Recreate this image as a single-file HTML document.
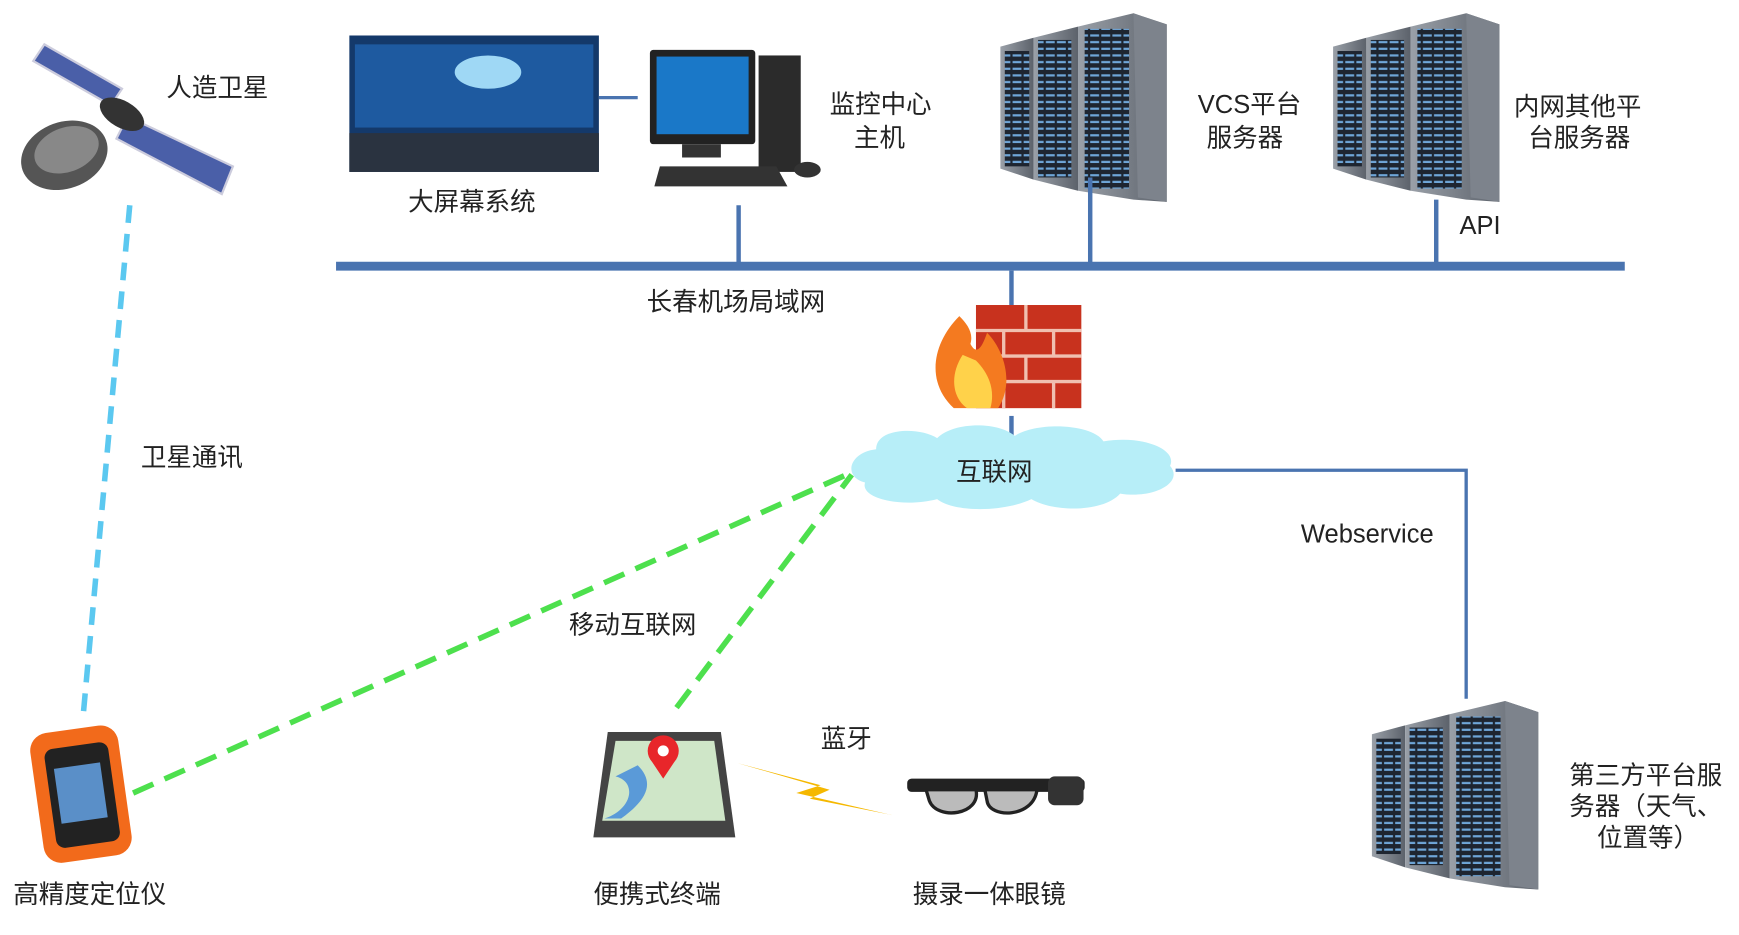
<!DOCTYPE html>
<html><head><meta charset="utf-8"><style>
html,body{margin:0;padding:0;background:#fff;}
svg{display:block}
text{font-family:"Liberation Sans","Noto Sans CJK SC",sans-serif;fill:#222;font-size:23px}
</style></head><body>
<svg width="1739" height="935" viewBox="0 0 1568 843" preserveAspectRatio="none" xmlns="http://www.w3.org/2000/svg">
<defs>
<linearGradient id="side" x1="0" x2="1"><stop offset="0" stop-color="#9aa0a8"/><stop offset="1" stop-color="#5c626b"/></linearGradient>
<pattern id="slots" width="10" height="6" patternUnits="userSpaceOnUse"><rect width="10" height="6" fill="#1e2530"/><rect x="1" y="1" width="8" height="2" fill="#6fa6d8"/></pattern>
<g id="server">
 <polygon points="0,30 30,22 30,150 0,140" fill="url(#side)"/>
 <rect x="4" y="34" width="22" height="104" fill="url(#slots)"/>
 <polygon points="30,22 70,12 70,160 30,150" fill="url(#side)"/>
 <rect x="34" y="24" width="30" height="124" fill="url(#slots)"/>
 <polygon points="70,12 120,0 150,10 150,170 120,168 70,160" fill="url(#side)"/>
 <rect x="76" y="14" width="40" height="144" fill="url(#slots)"/>
 <polygon points="120,0 150,10 150,170 124,166" fill="#7d838c"/>
</g>
</defs>

<g>
 <polygon points="40,40 110,80 100,95 30,55" fill="#4a5fa8" stroke="#ccd" stroke-width="2"/>
 <polygon points="115,105 210,150 200,175 105,125" fill="#4a5fa8" stroke="#ccd" stroke-width="2"/>
 <ellipse cx="110" cy="103" rx="22" ry="12" fill="#333" transform="rotate(30 110 103)"/>
 <ellipse cx="58" cy="140" rx="40" ry="30" fill="#555" transform="rotate(-20 58 140)"/>
 <ellipse cx="60" cy="135" rx="30" ry="20" fill="#888" transform="rotate(-20 60 135)"/>
</g>
<text x="150" y="87">人造卫星</text>
<line x1="117" y1="185" x2="75" y2="645" stroke="#5bc8f0" stroke-width="5" stroke-dasharray="16,10"/>
<text x="127" y="420">卫星通讯</text>

<rect x="315" y="32" width="225" height="123" fill="#14396a"/>
<rect x="320" y="40" width="215" height="75" fill="#1e5aa0"/>
<ellipse cx="440" cy="65" rx="30" ry="15" fill="#9fd8f5"/>
<rect x="315" y="120" width="225" height="35" fill="#2a3340"/>
<line x1="540" y1="88" x2="575" y2="88" stroke="#4a74b0" stroke-width="3"/>
<text x="368" y="190">大屏幕系统</text>

<rect x="586" y="45" width="95" height="85" fill="#222" rx="3"/>
<rect x="592" y="51" width="83" height="70" fill="#1a78c8"/>
<rect x="684" y="50" width="38" height="105" fill="#2b2b2b"/>
<rect x="615" y="130" width="35" height="12" fill="#333"/>
<polygon points="595,150 700,150 710,168 590,168" fill="#333"/>
<ellipse cx="728" cy="153" rx="12" ry="7" fill="#333"/>
<text x="748" y="102">监控中心</text>
<text x="770" y="132">主机</text>
<line x1="666" y1="185" x2="666" y2="240" stroke="#4a74b0" stroke-width="4"/>

<use href="#server" x="902" y="12"/>
<text x="1080" y="102">VCS平台</text>
<text x="1088" y="132">服务器</text>
<line x1="983" y1="160" x2="983" y2="240" stroke="#4a74b0" stroke-width="4"/>
<use href="#server" x="1202" y="12"/>
<text x="1365" y="104">内网其他平</text>
<text x="1378" y="132">台服务器</text>
<line x1="1295" y1="180" x2="1295" y2="240" stroke="#4a74b0" stroke-width="4"/>
<text x="1316" y="211" font-size="20">API</text>

<rect x="303" y="236" width="1162" height="8" fill="#4a74b0"/>
<text x="583" y="280">长春机场局域网</text>
<line x1="912" y1="244" x2="912" y2="275" stroke="#4a74b0" stroke-width="4"/>

<rect x="880" y="275" width="95" height="93" fill="#c8321e"/>
<g stroke="#f0c0b0" stroke-width="3">
<line x1="880" y1="298" x2="975" y2="298"/><line x1="880" y1="321" x2="975" y2="321"/><line x1="880" y1="344" x2="975" y2="344"/>
<line x1="925" y1="275" x2="925" y2="298"/><line x1="905" y1="298" x2="905" y2="321"/><line x1="950" y1="298" x2="950" y2="321"/>
<line x1="925" y1="321" x2="925" y2="344"/><line x1="905" y1="344" x2="905" y2="368"/><line x1="950" y1="344" x2="950" y2="368"/>
</g>
<path d="M865,285 C840,310 835,345 860,368 L900,368 C915,345 905,315 890,300 C885,315 880,320 875,310 C878,300 872,292 865,285Z" fill="#f47a20"/>
<path d="M868,320 C855,340 860,360 872,368 L893,368 C898,350 890,335 880,325Z" fill="#ffd24a"/>
<line x1="912" y1="375" x2="912" y2="395" stroke="#4a74b0" stroke-width="4"/>

<path d="M790,405 C790,385 830,385 845,395 C860,380 900,380 915,393 C935,380 985,382 995,398 C1030,392 1062,405 1055,420 C1068,435 1040,450 1010,445 C995,462 950,462 930,450 C905,462 860,462 845,450 C815,458 775,450 780,435 C760,430 765,408 790,405Z" fill="#b7eef8"/>
<text x="862" y="433" font-size="27">互联网</text>

<polyline points="1060,424 1322,424 1322,630" fill="none" stroke="#4a74b0" stroke-width="3"/>
<text x="1173" y="489" font-size="20">Webservice</text>
<use href="#server" x="1237" y="632"/>
<text x="1415" y="707">第三方平台服</text>
<text x="1415" y="735">务器（天气、</text>
<text x="1440" y="763">位置等）</text>

<line x1="120" y1="715" x2="770" y2="425" stroke="#4de04d" stroke-width="5" stroke-dasharray="20,11"/>
<line x1="610" y1="638" x2="768" y2="428" stroke="#4de04d" stroke-width="5" stroke-dasharray="20,11"/>
<text x="513" y="571">移动互联网</text>

<rect x="33" y="657" width="80" height="118" rx="16" fill="#f26a1b" transform="rotate(-8 73 716)"/>
<rect x="45" y="672" width="58" height="90" rx="8" fill="#222" transform="rotate(-8 73 716)"/>
<rect x="52" y="690" width="42" height="50" fill="#5a8fc8" transform="rotate(-8 73 716)"/>
<text x="12" y="814">高精度定位仪</text>

<polygon points="548,660 650,660 663,755 535,755" fill="#444"/>
<polygon points="555,668 644,668 654,740 543,740" fill="#cfe6c8"/>
<path d="M555,700 C575,705 570,730 545,738 L560,738 C585,720 590,705 575,690Z" fill="#5a9ad8"/>
<circle cx="598" cy="677" r="14" fill="#e8262a"/><circle cx="598" cy="677" r="5" fill="#fff"/>
<polygon points="586,684 610,684 598,702" fill="#e8262a"/>
<text x="535" y="814">便携式终端</text>

<polygon points="665,688 740,708 718,715 805,735 730,720 748,712" fill="#f5b800"/>
<text x="740" y="674">蓝牙</text>

<rect x="818" y="702" width="160" height="12" rx="4" fill="#222"/>
<path d="M835,712 L880,712 C885,735 845,740 838,722Z" fill="#bbb" stroke="#222" stroke-width="3"/>
<path d="M888,712 L935,712 C932,738 892,738 890,722Z" fill="#bbb" stroke="#222" stroke-width="3"/>
<rect x="945" y="700" width="32" height="26" rx="6" fill="#333"/>
<text x="823" y="814">摄录一体眼镜</text>
</svg>
</body></html>
